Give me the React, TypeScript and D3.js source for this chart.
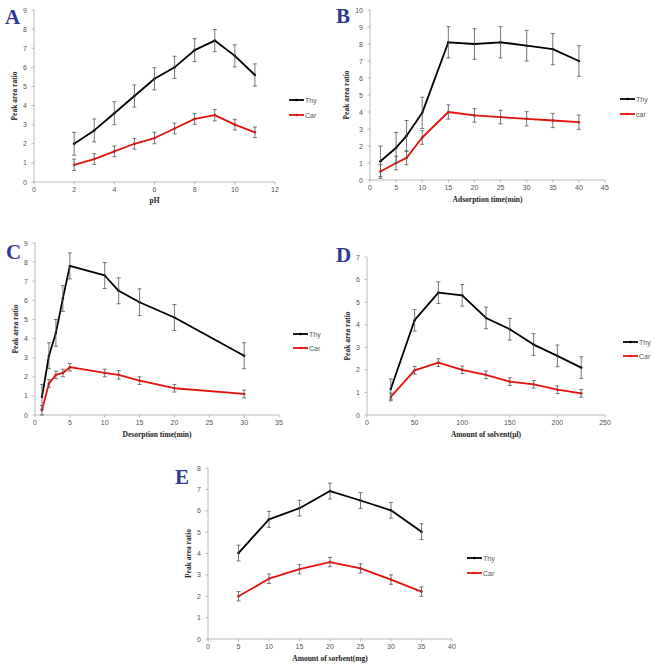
import React, { useEffect, useRef } from "react";
import * as d3 from "d3";

// ---- data ----
const phX = [2, 3, 4, 5, 6, 7, 8, 9, 10, 11];
const phThy = [2.0, 2.7, 3.6, 4.5, 5.4, 6.0, 6.9, 7.4, 6.6, 5.6];
const phThyErr = [0.6, 0.6, 0.6, 0.58, 0.58, 0.58, 0.6, 0.58, 0.58, 0.58];
const phCar = [0.9, 1.2, 1.6, 2.0, 2.3, 2.8, 3.3, 3.5, 3.0, 2.6];
const phCarErr = [0.3, 0.28, 0.28, 0.28, 0.3, 0.28, 0.28, 0.3, 0.28, 0.28];

const adsX = [2, 5, 7, 10, 15, 20, 25, 30, 35, 40];
const adsThy = [1.1, 1.9, 2.6, 3.95, 8.1, 8.0, 8.1, 7.9, 7.7, 7.0];
const adsThyErr = [0.9, 0.9, 0.9, 0.92, 0.92, 0.9, 0.92, 0.9, 0.92, 0.9];
const adsCar = [0.5, 1.0, 1.3, 2.5, 4.0, 3.8, 3.7, 3.6, 3.5, 3.4];
const adsCarErr = [0.4, 0.4, 0.4, 0.4, 0.42, 0.4, 0.4, 0.42, 0.42, 0.42];

const desX = [1, 2, 3, 4, 5, 10, 12, 15, 20, 30];
const desThy = [0.95, 3.1, 4.3, 6.1, 7.8, 7.3, 6.5, 5.9, 5.1, 3.1];
const desThyErr = [0.65, 0.68, 0.7, 0.68, 0.68, 0.68, 0.68, 0.7, 0.68, 0.68];
const desCar = [0.25, 1.65, 2.1, 2.2, 2.5, 2.2, 2.1, 1.8, 1.4, 1.1];
const desCarErr = [0.25, 0.2, 0.2, 0.2, 0.2, 0.2, 0.22, 0.2, 0.2, 0.2];

const solX = [25, 50, 75, 100, 125, 150, 175, 200, 225];
const solThy = [1.15, 4.2, 5.42, 5.3, 4.3, 3.8, 3.12, 2.62, 2.1];
const solThyErr = [0.45, 0.48, 0.48, 0.48, 0.48, 0.48, 0.48, 0.48, 0.48];
const solCar = [0.8, 1.98, 2.32, 2.0, 1.78, 1.48, 1.36, 1.12, 0.96];
const solCarErr = [0.17, 0.17, 0.17, 0.17, 0.17, 0.17, 0.17, 0.17, 0.17];

const sorX = [5, 10, 15, 20, 25, 30, 35];
const sorThy = [4.02, 5.6, 6.12, 6.92, 6.48, 6.02, 5.02];
const sorThyErr = [0.37, 0.37, 0.37, 0.37, 0.37, 0.37, 0.37];
const sorCar = [2.0, 2.82, 3.27, 3.6, 3.3, 2.78, 2.22];
const sorCarErr = [0.22, 0.22, 0.22, 0.22, 0.22, 0.22, 0.22];

const seriesNames = ["Thy", "Car"];

// ---- layout of each panel (pixel boxes) ----
const panels = [
  {
    letter: "A", xl: "pH", legend: ["Thy", "Car"],
    x: phX, thy: phThy, thyErr: phThyErr, car: phCar, carErr: phCarErr,
    xDom: [0, 12], xStep: 2, yDom: [0, 9], yStep: 1,
    left: 34, right: 275, top: 10, bottom: 182,
    letterX: 5, letterY: 24, legX: 289, legY: 100, legGap: 15, titleY: 203, ylX: 17,
  },
  {
    letter: "B", xl: "Adsorption time(min)", legend: ["Thy", "car"],
    x: adsX, thy: adsThy, thyErr: adsThyErr, car: adsCar, carErr: adsCarErr,
    xDom: [0, 45], xStep: 5, yDom: [0, 10], yStep: 1,
    left: 370, right: 605, top: 10, bottom: 180,
    letterX: 336, letterY: 23, legX: 620, legY: 99, legGap: 15, titleY: 202, ylX: 349,
  },
  {
    letter: "C", xl: "Desorption time(min)", legend: ["Thy", "Car"],
    x: desX, thy: desThy, thyErr: desThyErr, car: desCar, carErr: desCarErr,
    xDom: [0, 35], xStep: 5, yDom: [0, 9], yStep: 1,
    left: 35, right: 279, top: 243, bottom: 415,
    letterX: 6, letterY: 259, legX: 293, legY: 334, legGap: 14, titleY: 437, ylX: 18,
  },
  {
    letter: "D", xl: "Amount of solvent(µl)", legend: ["Thy", "Car"],
    x: solX, thy: solThy, thyErr: solThyErr, car: solCar, carErr: solCarErr,
    xDom: [0, 250], xStep: 50, yDom: [0, 7], yStep: 1,
    left: 367, right: 605, top: 257, bottom: 415,
    letterX: 336, letterY: 262, legX: 623, legY: 342, legGap: 14, titleY: 437, ylX: 350,
  },
  {
    letter: "E", xl: "Amount of sorbent(mg)", legend: ["Thy", "Car"],
    x: sorX, thy: sorThy, thyErr: sorThyErr, car: sorCar, carErr: sorCarErr,
    xDom: [0, 40], xStep: 5, yDom: [0, 8], yStep: 1,
    left: 208, right: 452, top: 468, bottom: 639,
    letterX: 175, letterY: 484, legX: 467, legY: 558, legGap: 15, titleY: 661, ylX: 191,
  },
];

const W = 661;
const H = 672;
const colors = ["#000000", "#e3120b"];
const axisColor = "#a8a8a8";
const tickText = "#555555";
const letterColor = "#2e3a8f";

export default function App() {
  const ref = useRef<SVGSVGElement>(null);

  useEffect(() => {
    document.body.style.margin = "0";
    const svg = d3.select(ref.current);
    svg.selectAll("*").remove();

    panels.forEach((p) => {
      const g = svg.append("g");
      const x = d3.scaleLinear().domain(p.xDom).range([p.left, p.right]);
      const y = d3.scaleLinear().domain(p.yDom).range([p.bottom, p.top]);

      const xt = d3.range(p.xDom[0], p.xDom[1] + 0.001, p.xStep);
      const yt = d3.range(p.yDom[0], p.yDom[1] + 0.001, p.yStep);

      // axes
      g.append("line")
        .attr("x1", p.left).attr("x2", p.left)
        .attr("y1", p.top).attr("y2", p.bottom)
        .attr("stroke", axisColor).attr("stroke-width", 0.8);
      g.append("line")
        .attr("x1", p.left).attr("x2", p.right)
        .attr("y1", p.bottom).attr("y2", p.bottom)
        .attr("stroke", axisColor).attr("stroke-width", 0.8);

      g.selectAll(".yt").data(yt).join("line")
        .attr("x1", p.left - 2.5).attr("x2", p.left)
        .attr("y1", (d) => y(d)).attr("y2", (d) => y(d))
        .attr("stroke", axisColor).attr("stroke-width", 0.8);
      g.selectAll(".ytl").data(yt).join("text")
        .attr("x", p.left - 7).attr("y", (d) => y(d) + 2.5)
        .attr("text-anchor", "end")
        .attr("font-family", "Liberation Sans, Arial, sans-serif")
        .attr("font-size", 7).attr("fill", tickText)
        .text((d) => d);

      g.selectAll(".xt").data(xt).join("line")
        .attr("x1", (d) => x(d)).attr("x2", (d) => x(d))
        .attr("y1", p.bottom).attr("y2", p.bottom + 2.5)
        .attr("stroke", axisColor).attr("stroke-width", 0.8);
      g.selectAll(".xtl").data(xt).join("text")
        .attr("x", (d) => x(d)).attr("y", p.bottom + 10)
        .attr("text-anchor", "middle")
        .attr("font-family", "Liberation Sans, Arial, sans-serif")
        .attr("font-size", 7).attr("fill", tickText)
        .text((d) => d);

      // axis titles
      g.append("text")
        .attr("x", (p.left + p.right) / 2).attr("y", p.titleY)
        .attr("text-anchor", "middle")
        .attr("font-family", "Liberation Serif, Times New Roman, serif")
        .attr("font-weight", "bold").attr("font-size", 7.5).attr("fill", "#222")
        .text(p.xl);
      g.append("text")
        .attr("transform", `translate(${p.ylX},${(p.top + p.bottom) / 2}) rotate(-90)`)
        .attr("text-anchor", "middle")
        .attr("font-family", "Liberation Serif, Times New Roman, serif")
        .attr("font-weight", "bold").attr("font-size", 7.5).attr("fill", "#222")
        .text("Peak area ratio");

      // panel letter
      g.append("text")
        .attr("x", p.letterX).attr("y", p.letterY)
        .attr("font-family", "Liberation Serif, Times New Roman, serif")
        .attr("font-weight", "bold").attr("font-size", 21).attr("fill", letterColor)
        .text(p.letter);

      const series = [
        { v: p.thy, e: p.thyErr },
        { v: p.car, e: p.carErr },
      ];

      const line = d3.line<number>()
        .x((_, i) => x(p.x[i]))
        .y((d) => y(d));

      series.forEach((s, si) => {
        g.append("path")
          .datum(s.v)
          .attr("d", line)
          .attr("fill", "none")
          .attr("stroke", colors[si])
          .attr("stroke-width", 1.8)
          .attr("stroke-linejoin", "round");

        g.selectAll(`.m${si}`).data(s.v).join("circle")
          .attr("cx", (_, i) => x(p.x[i])).attr("cy", (d) => y(d))
          .attr("r", 1.3).attr("fill", colors[si]);
      });

      // error bars drawn on top
      series.forEach((s) => {
        const eb = g.selectAll(null).data(s.v).join("g");
        eb.append("line")
          .attr("x1", (_, i) => x(p.x[i])).attr("x2", (_, i) => x(p.x[i]))
          .attr("y1", (d, i) => y(d - s.e[i])).attr("y2", (d, i) => y(d + s.e[i]))
          .attr("stroke", "#555").attr("stroke-width", 0.8);
        [1, -1].forEach((sg) => {
          eb.append("line")
            .attr("x1", (_, i) => x(p.x[i]) - 2).attr("x2", (_, i) => x(p.x[i]) + 2)
            .attr("y1", (d, i) => y(d + sg * s.e[i])).attr("y2", (d, i) => y(d + sg * s.e[i]))
            .attr("stroke", "#555").attr("stroke-width", 0.8);
        });
      });

      // legend
      p.legend.forEach((name, li) => {
        const ly = p.legY + li * p.legGap;
        g.append("line")
          .attr("x1", p.legX).attr("x2", p.legX + 15)
          .attr("y1", ly).attr("y2", ly)
          .attr("stroke", colors[li]).attr("stroke-width", 1.8);
        g.append("circle")
          .attr("cx", p.legX + 7.5).attr("cy", ly).attr("r", 1.3).attr("fill", colors[li]);
        g.append("text")
          .attr("x", p.legX + 16).attr("y", ly + 2.5)
          .attr("font-family", "Liberation Sans, Arial, sans-serif")
          .attr("font-size", 7).attr("fill", tickText)
          .text(name || seriesNames[li]);
      });
    });
  }, []);

  return (
    <svg
      ref={ref}
      width={W}
      height={H}
      style={{ display: "block", background: "#fff" }}
    />
  );
}
